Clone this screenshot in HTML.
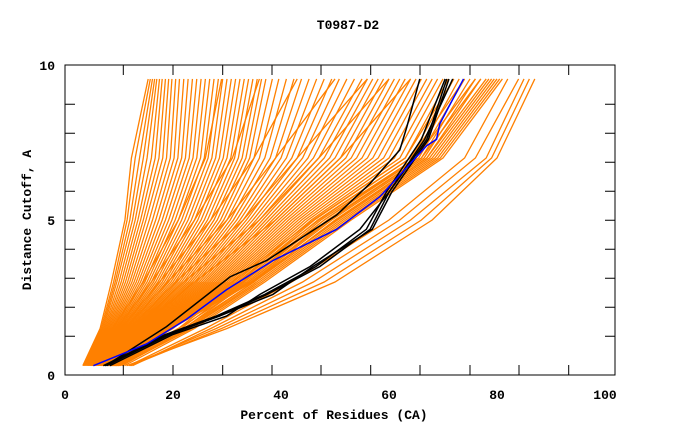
<!DOCTYPE html>
<html><head><meta charset="utf-8"><style>
body{margin:0;background:#fff}
svg{display:block}
text{font-family:"Liberation Mono",monospace;font-weight:bold;font-size:13px;fill:#000}
</style></head><body>
<svg id="chart" width="680" height="440">
<rect x="0" y="0" width="680" height="440" fill="#fff"/>
<text x="348" y="29" text-anchor="middle">T0987-D2</text>
<text x="334" y="419" text-anchor="middle">Percent of Residues (CA)</text>
<text x="0" y="0" transform="translate(31,220) rotate(-90)" text-anchor="middle">Distance Cutoff, A</text>
<g id="series"></g>
<rect x="65" y="65" width="550" height="310" fill="none" stroke="#000" stroke-width="1"/>
<g id="axes"></g>
</svg>
<script>
const xTicks=[0,20,40,60,80,100];
const yTicks=[0,5,10];
const levels=[0.3,1.5,3,5,7,9.55];
const orangeLines=[
[3.3,6.5,8.6,11.1,12.3,15.4],[3.4,6.7,9,11.5,13,15.8],[3.5,6.9,9.3,12,13.8,16.2],[3.6,7.1,9.6,12.5,14.5,16.6],
[3.7,7.3,10,13,15.2,17],[3.8,7.5,10.4,13.5,16,17.5],[3.9,7.7,10.8,14,16.7,18],[4,7.9,11.2,14.5,17.4,18.6],
[4.1,8.1,11.6,15,18.1,19.2],[4.2,8.3,12,15.6,18.8,19.8],[4.3,8.5,12.4,16.2,19.5,20.5],[4.4,8.7,12.8,16.8,20.2,21.2],
[4.5,8.9,13.2,17.4,20.9,22],[4.6,9.1,13.6,18,21.6,22.8],[4.7,9.3,14,18.6,22.3,23.6],[4.8,9.5,14.4,19.2,23,24.4],
[4.9,9.7,14.8,19.8,23.7,25.2],[5,9.9,15.2,20.4,24.4,26],[5.1,10.1,15.6,21,25.1,26.8],[5.2,10.3,16,21.6,25.8,27.6],
[5.3,10.5,16.4,22.2,26.5,28.4],[5.4,10.7,16.8,22.8,27.2,29.2],[5.5,10.9,17.2,23.4,27.9,30],[5.6,11.1,17.6,24,28.6,30.8],
[5.7,11.3,18,24.6,29.3,31.6],[5.8,11.5,18.4,25.2,30,32.4],[5.9,11.7,18.8,25.8,30.7,33.2],[6,11.9,19.2,26.4,31.4,34],
[6.1,12.1,19.6,27,32.1,34.8],[6.2,12.3,20,27.6,32.8,35.6],[6.3,12.5,20.4,28.2,33.5,36.4],[6.4,12.7,20.8,28.8,34.2,37.2],
[6.5,12.9,21.2,29.4,35,38.4],[6.6,13.1,21.6,30,36,39.6],[6.7,13.3,22,30.6,37,41],[6.8,13.5,22.4,31.2,38,42.4],
[6.9,13.7,22.8,31.8,39,43.8],[7,13.9,23.2,32.4,40,45.2],[7.1,14.1,23.6,33,41,46.6],[7.2,14.3,24,33.6,42,48],
[7.3,14.5,24.4,34.2,43,49.4],[7.4,14.7,24.8,34.8,44,50.8],[7.5,14.9,25.2,35.4,45,52.2],[7.6,15.1,25.6,36,46,53.6],
[7.7,15.3,26,36.6,47,55],[7.8,15.5,26.4,37.2,48,56],[7.9,15.7,26.8,37.8,49,57],[8,15.9,27.2,38.4,50,58],
[8.1,16.1,27.6,39,51,59],[8.2,16.3,28,39.6,52,60],[8.3,16.5,28.4,40.2,53,61],[8.4,16.7,28.8,40.8,54,62],
[8.5,16.9,29.2,41.4,55,63],[8.6,17.1,29.6,42,56,64],[8.7,17.3,30,42.6,57,65],[8.8,17.5,30.4,43.2,58,66],
[8.9,17.7,30.8,43.8,59,67],[9,17.9,31.2,44.4,60,68],[9.1,18.1,31.6,45,61,69],[9.2,18.3,32,45.6,62,70],
[9.3,18.5,32.4,46.2,63,71],[9.4,18.7,32.8,46.8,64,72],[9.5,18.9,33.2,47.4,65,73],[9.6,19.1,33.6,48,65.5,74],
[9.7,19.3,34,48.6,66,75],[9.8,19.5,34.4,49.4,66.5,76],[9.9,19.7,34.8,50.2,67,77],
[4.2,8.8,14.5,21,26,29],[4.6,9.6,16,24,31,36],[5,10.4,17.5,27,35,43],[5.4,11.2,19,30,39,50],
[5.8,12,20.5,33,43,56],[6.2,12.8,22,36,47,60],[6.6,13.6,24,39,51,64],
[8,20,31,46,63,72],[8.5,21,32,47,64,74],[9,21.5,33,48,65,76],[9.5,22,34,49,66,77],
[10,22.5,35,50,67,78],[10.5,23,36,52,69,80],[11,24,37,53,70,81],[9.2,22,35,51,68,79],
[8.8,21,34.5,50.5,67.5,78.5],[10.2,23.5,36.5,52.5,69.5,80.5],[9.8,22.8,35.5,51.5,68.5,79.5],
[11.4,30,50,68,80,87],[12,28,46,64,78,85],[12.5,27,44,62,76,84],[11.8,26,42,60,74,82],[12.2,29,48,66,79,86]
];
const blueX=[5.25,15.1,22.5,29.9,38.6,50.3,58.3,67,68.8,69.4,73.8];
const blueY=[0.3,1.0,1.8,2.75,3.7,4.7,5.75,7.4,7.6,8.1,9.55];
const blackY=[0.3,1.3,1.9,2.6,3.5,4.7,5.9,7.6,9.55];
const blackA_X=[7.7,18.8,30.6,37.4,50.3,56.5,62,63.3,65.7];
const blackA_Y=[0.32,1.56,3.17,3.7,5.16,6.18,7.26,8,9.55];
const blackB=[7.7,19.3,28.6,37.4,47.2,56.5,60.0,67,70.7];
const blackC=[7.1,18.8,28.6,38.5,45.9,56.9,60.5,67.3,71.1];
const blackD=[8.3,19.9,29.9,36.1,45.4,54.6,60.0,66.6,71.8];
const blackE=[7.4,18.5,28.0,37.0,46.5,55.8,59.5,66.0,70.4];

const sx=v=>65+5.4*v;
const sy=v=>375-31*v;
const NS="http://www.w3.org/2000/svg";
const g=document.getElementById('series');
const ax=document.getElementById('axes');
function poly(xs,ys,color,w,name){
  const p=document.createElementNS(NS,'polyline');
  p.setAttribute('points',xs.map((x,i)=>sx(x)+','+sy(ys[i])).join(' '));
  p.setAttribute('fill','none');p.setAttribute('stroke',color);p.setAttribute('stroke-width',w);
  
  
  g.appendChild(p);
}
orangeLines.forEach((l,i)=>poly(l,levels,'#ff8000',1.3,'model-line-'+i));
poly(blackA_X,blackA_Y,'#000',1.5,'reference-line-a');
poly(blackB,blackY,'#000',1.5,'reference-line-b');
poly(blackC,blackY,'#000',1.5,'reference-line-c');
poly(blackD,blackY,'#000',1.5,'reference-line-d');
poly(blackE,blackY,'#000',1.5,'reference-line-e');
poly(blueX,blueY,'#0000ff',1.5,'highlight-line');
function txt(x,y,s,anchor,name){
  const t=document.createElementNS(NS,'text');
  t.setAttribute('x',x);t.setAttribute('y',y);t.setAttribute('text-anchor',anchor);t.textContent=s;
  
  
  ax.appendChild(t);
}
xTicks.forEach(v=>txt(sx(v),399,String(v),'middle','x-tick-label'));
yTicks.forEach(v=>txt(55,sy(v)+5,String(v),'end','y-tick-label'));
const tickPx=[123.3,173,222.7,272,321,370.7,420,470,519,568.7];
const ytickPx=[104.3,133.3,162.3,191.3,220.3,249.3,278.3,307.3,336.3];
let d='';
tickPx.forEach(x=>{d+=`M${x},375v-10M${x},65v10`;});
ytickPx.forEach(y=>{d+=`M65,${y}h10M615,${y}h-10`;});
const tp=document.createElementNS(NS,'path');
tp.setAttribute('d',d);tp.setAttribute('stroke','#000');tp.setAttribute('fill','none');


ax.appendChild(tp);
</script>
</body></html>
